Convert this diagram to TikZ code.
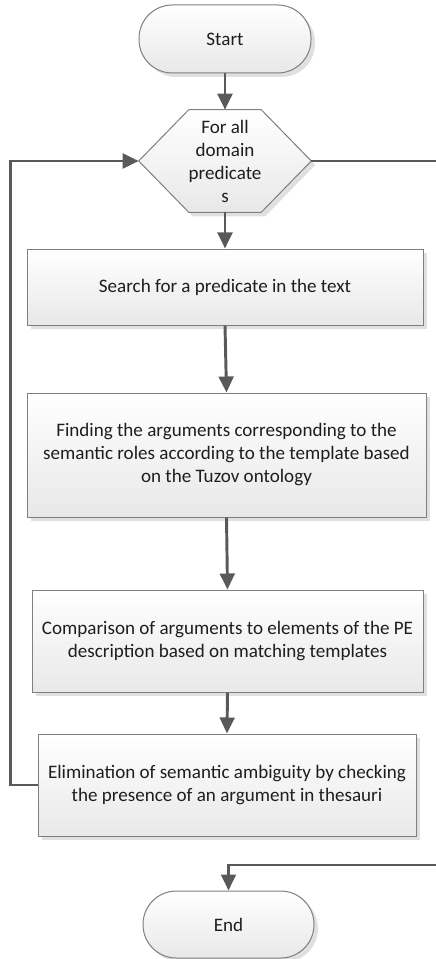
\documentclass[tikz,border=0pt]{standalone}
\usepackage{fontspec}
\setmainfont{Carlito}
\usetikzlibrary{arrows.meta,shadows,backgrounds,calc}
\definecolor{lncol}{HTML}{595959}
\definecolor{bdcol}{HTML}{7F7F7F}
\definecolor{txcol}{HTML}{1E1E1E}
\tikzset{
  shapefill/.style={draw=bdcol, line width=0.75pt, top color=white, bottom color=black!9,
    drop shadow={shadow xshift=3pt, shadow yshift=-3pt, fill=black!12, opacity=1}},
  lbl/.style={font=\fontsize{14.3pt}{17.25pt}\selectfont, text=txcol, align=center, inner sep=0pt},
  term/.style={shapefill, lbl, rounded corners=25pt, minimum width=129pt, minimum height=51pt},
  procbox/.style={shapefill, lbl},
  hexbox/.style={lbl, minimum width=129pt, minimum height=76.5pt},
  conn/.style={draw=lncol, line width=2.2pt},
  arr/.style={conn, -{Triangle[length=12pt, width=11pt]}},
}
\begin{document}
\begin{tikzpicture}[x=0.75pt, y=-0.75pt]
\useasboundingbox (0,0) rectangle (435,959);
\node[term] (start) at (225,39) {Start};
\node[hexbox] (hex) at (225,161) {For all\\domain\\predicate\\s};
\begin{scope}[on background layer]
\path[shapefill] (hex.west) -- ([xshift=37.5pt]hex.north west) -- ([xshift=-37.5pt]hex.north east)
  -- (hex.east) -- ([xshift=-37.5pt]hex.south east) -- ([xshift=37.5pt]hex.south west) -- cycle;
\end{scope}
\node[procbox, minimum width=297pt, minimum height=57pt] (search) at (225,287) {Search for a predicate in the text};
\node[procbox, minimum width=299.25pt, minimum height=93pt] (find) at (226.5,455)
  {Finding the arguments corresponding to the\\semantic roles according to the template based\\on the Tuzov ontology};
\node[procbox, minimum width=293.25pt, minimum height=76.5pt] (comp) at (227.5,641)
  {Comparison of arguments to elements of the PE\\description based on matching templates};
\node[procbox, minimum width=283.5pt, minimum height=76.5pt] (elim) at (227,785)
  {Elimination of semantic ambiguity by checking\\the presence of an argument in thesauri};
\node[term, minimum width=128.25pt, minimum height=50.25pt] (end) at (228.5,924.5) {End};
\coordinate (rtop) at (436,161);
\coordinate (rbot) at (436,865);
\draw[arr] (start.south) -- (hex.north);
\draw[arr] (hex.south) -- (search.north);
\draw[arr] (search.south) -- (find.north);
\draw[arr] (find.south) -- (comp.north);
\draw[arr] (comp.south) -- (elim.north);
\draw[arr] (elim.west) -- ++(-27,0) |- (hex.west);
\draw[conn] (hex.east) -- (rtop);
\draw[arr] (rbot) -| (end.north);
\end{tikzpicture}
\end{document}
